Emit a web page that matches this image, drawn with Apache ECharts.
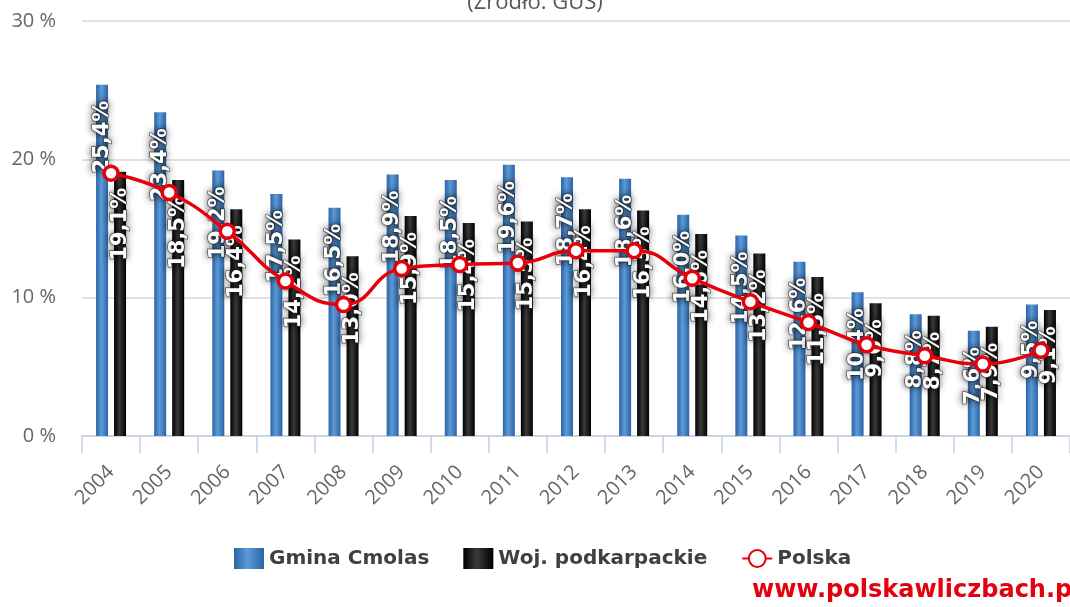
<!DOCTYPE html>
<html>
<head>
<meta charset="utf-8">
<script src="https://cdn.jsdelivr.net/npm/echarts@6/dist/echarts.min.js"></script>
<style>
  html, body { margin: 0; padding: 0; background: #fff; }
  #chart { width: 1070px; height: 607px; }
</style>
</head>
<body>
<div id="chart"></div>
<script>
const years = ['2004', '2005', '2006', '2007', '2008', '2009', '2010', '2011', '2012',
  '2013', '2014', '2015', '2016', '2017', '2018', '2019', '2020']
const gmina = [25.4, 23.4, 19.2, 17.5, 16.5, 18.9, 18.5, 19.6, 18.7, 18.6, 16.0, 14.5, 12.6, 10.4, 8.8, 7.6, 9.5]
const woj = [19.1, 18.5, 16.4, 14.2, 13.0, 15.9, 15.4, 15.5, 16.4, 16.3, 14.6, 13.2, 11.5, 9.6, 8.7, 7.9, 9.1]
const polska = [19.0, 17.6, 14.8, 11.2, 9.5, 12.1, 12.4, 12.5, 13.4, 13.4, 11.4, 9.7, 8.2, 6.6, 5.8, 5.2, 6.2]

const fmt = v => v.toFixed(1).replace('.', ',') + '%'

// white rotated value labels at the top of each bar
const barLabel = {
  show: true,
  position: 'insideTop',
  distance: 16,
  rotate: 90,
  align: 'right',
  verticalAlign: 'middle',
  color: '#fff',
  fontFamily: 'DejaVu Sans',
  fontWeight: 'bold',
  fontSize: 21,
  textBorderColor: 'rgba(40,40,40,0.5)',
  textBorderWidth: 2,
  textShadowColor: 'rgba(0,0,0,0.7)',
  textShadowBlur: 7,
  formatter: p => fmt(p.value)
}

const grad = (edge, mid) => new echarts.graphic.LinearGradient(0, 0, 1, 0, [
  { offset: 0, color: edge },
  { offset: 0.45, color: mid },
  { offset: 1, color: edge }
])

const chart = echarts.init(document.getElementById('chart'))
chart.setOption({
  animation: false,
  title: {
    text: '(Źródło: GUS)',
    left: 'center',
    top: -13,
    textStyle: { fontFamily: 'Open Sans', fontWeight: 'normal', fontSize: 22, color: '#595959' }
  },
  legend: {
    left: 229,
    top: 543,
    itemWidth: 30,
    itemHeight: 21,
    itemGap: 34,
    textStyle: { fontFamily: 'DejaVu Sans', fontWeight: 'bold', fontSize: 20, color: '#404040' },
    data: [
      { name: 'Gmina Cmolas', icon: 'rect' },
      { name: 'Woj. podkarpackie', icon: 'rect' },
      'Polska'
    ]
  },
  grid: { left: 82, right: -8, top: 21, bottom: 171 },
  xAxis: {
    type: 'category',
    data: years,
    axisLine: { lineStyle: { color: '#c3d0e0', width: 1.5 } },
    axisTick: { show: true, length: 17, lineStyle: { color: '#c3d0e0', width: 1.5 } },
    axisLabel: { rotate: 45, margin: 33, fontFamily: 'Open Sans', fontSize: 20, color: '#666' }
  },
  yAxis: {
    type: 'value',
    min: 0,
    max: 30,
    interval: 10,
    axisLine: { show: false },
    axisTick: { show: false },
    axisLabel: { margin: 26, fontFamily: 'Open Sans', fontSize: 20, color: '#666', formatter: '{value} %' },
    splitLine: { lineStyle: { color: '#d9d9d9', width: 1.5 } }
  },
  series: [
    {
      name: 'Gmina Cmolas',
      type: 'bar',
      barWidth: 12,
      barGap: '50%',
      itemStyle: { color: grad('#2c63a5', '#5c9bd6') },
      label: barLabel,
      data: gmina
    },
    {
      name: 'Woj. podkarpackie',
      type: 'bar',
      barWidth: 12,
      itemStyle: { color: grad('#000000', '#3a3a3a') },
      label: barLabel,
      data: woj
    },
    {
      name: 'Polska',
      type: 'line',
      smooth: true,
      symbol: 'circle',
      symbolSize: 14,
      lineStyle: { color: '#e5000c', width: 3.5 },
      itemStyle: { color: '#fff', borderColor: '#e5000c', borderWidth: 3.5 },
      data: polska
    }
  ],
  graphic: [{
    type: 'text',
    left: 752,
    top: 579,
    style: {
      text: 'www.polskawliczbach.pl',
      fill: '#e3000f',
      fontFamily: 'DejaVu Sans',
      fontWeight: 'bold',
      fontSize: 24
    }
  }]
})
</script>
</body>
</html>
